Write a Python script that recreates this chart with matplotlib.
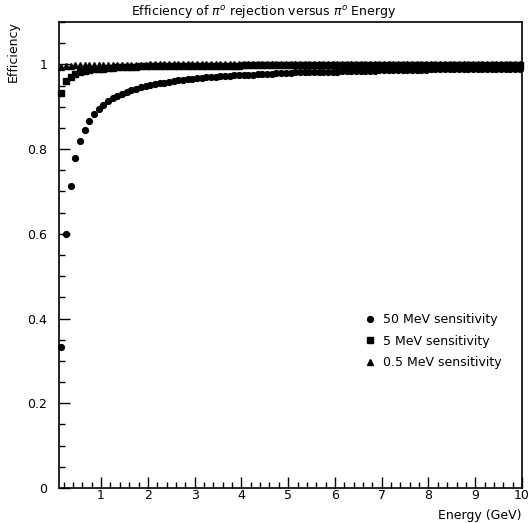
import numpy as np
import matplotlib
matplotlib.use("Agg")
import matplotlib.pyplot as plt
from matplotlib.ticker import MultipleLocator

# bin centres in GeV
energy = np.round(np.arange(0.15, 10.0, 0.1), 2)

eff_50mev = [
    0.333, 0.600, 0.714, 0.778, 0.818, 0.846, 0.867, 0.882, 0.895, 0.905,
    0.913, 0.920, 0.926, 0.931, 0.935, 0.939, 0.943, 0.946, 0.949, 0.951,
    0.953, 0.956, 0.957, 0.959, 0.961, 0.962, 0.964, 0.965, 0.966, 0.967,
    0.968, 0.969, 0.970, 0.971, 0.972, 0.973, 0.973, 0.974, 0.975, 0.975,
    0.976, 0.976, 0.977, 0.978, 0.978, 0.978, 0.979, 0.979, 0.980, 0.980,
    0.981, 0.981, 0.981, 0.982, 0.982, 0.982, 0.983, 0.983, 0.983, 0.983,
    0.984, 0.984, 0.984, 0.984, 0.985, 0.985, 0.985, 0.985, 0.986, 0.986,
    0.986, 0.986, 0.986, 0.987, 0.987, 0.987, 0.987, 0.987, 0.987, 0.988,
    0.988, 0.988, 0.988, 0.988, 0.988, 0.988, 0.989, 0.989, 0.989, 0.989,
    0.989, 0.989, 0.989, 0.989, 0.990, 0.990, 0.990, 0.990, 0.990,
]
eff_5mev = ([0.933, 0.960, 0.971, 0.978, 0.982, 0.985, 0.987, 0.988, 0.989, 0.990,
             0.991, 0.992, 0.993, 0.993, 0.994, 0.994, 0.994, 0.995, 0.995, 0.995,
             0.995] + [0.996] * 7 + [0.997] * 11 + [0.998] * 27 + [0.999] * 33)
eff_05mev = [0.993, 0.996, 0.997, 0.998, 0.998, 0.998] + [0.999] * 13 + [1.000] * 80

W, H = 528, 523
fig = plt.figure(figsize=(W / 100, H / 100), dpi=100)
ax = fig.add_axes([59 / W, 1 - 488 / H, (522 - 59) / W, (488 - 22) / H])

ms = 4.2
ax.plot(energy, eff_50mev, "o", color="black", ms=ms, label="50 MeV sensitivity", clip_on=False)
ax.plot(energy, eff_5mev, "s", color="black", ms=ms, label="5 MeV sensitivity", clip_on=False)
ax.plot(energy, eff_05mev, "^", color="black", ms=ms, label="0.5 MeV sensitivity", clip_on=False)

ax.set_xlim(0.1, 10)
ax.set_ylim(0, 1.1)
ax.set_xticks(range(1, 11))
ax.set_xticklabels([str(i) for i in range(1, 11)])
ax.set_yticks([0, 0.2, 0.4, 0.6, 0.8, 1.0])
ax.set_yticklabels(["0", "0.2", "0.4", "0.6", "0.8", "1"])
ax.xaxis.set_minor_locator(MultipleLocator(0.2))
ax.yaxis.set_minor_locator(MultipleLocator(0.05))
ax.tick_params(which="both", direction="in", top=False, right=False, labelsize=9, width=1)
ax.tick_params(which="major", length=8)
ax.tick_params(which="minor", length=4)
ax.tick_params(axis="x", which="major", pad=1)
ax.tick_params(axis="y", which="major", pad=8.6)
for sp in ax.spines.values():
    sp.set_linewidth(1.2)

fig.text(0.5, 1 - 12 / H, r"Efficiency of $\pi^o$ rejection versus $\pi^o$ Energy",
         ha="center", va="center", fontsize=9)
fig.text(13 / W, 1 - 52 / H, "Efficiency", rotation=90, ha="center", va="center", fontsize=9)
fig.text(521 / W, 1 - 516 / H, "Energy (GeV)", ha="right", va="center", fontsize=9)

ax.legend(loc="upper left", bbox_to_anchor=(364 / W, 1 - 313 / H), bbox_transform=fig.transFigure,
          frameon=False, fontsize=9, handlelength=1.0, handletextpad=0.55, labelspacing=0.68,
          borderaxespad=0, borderpad=0)

fig.savefig("out.png", dpi=100)
